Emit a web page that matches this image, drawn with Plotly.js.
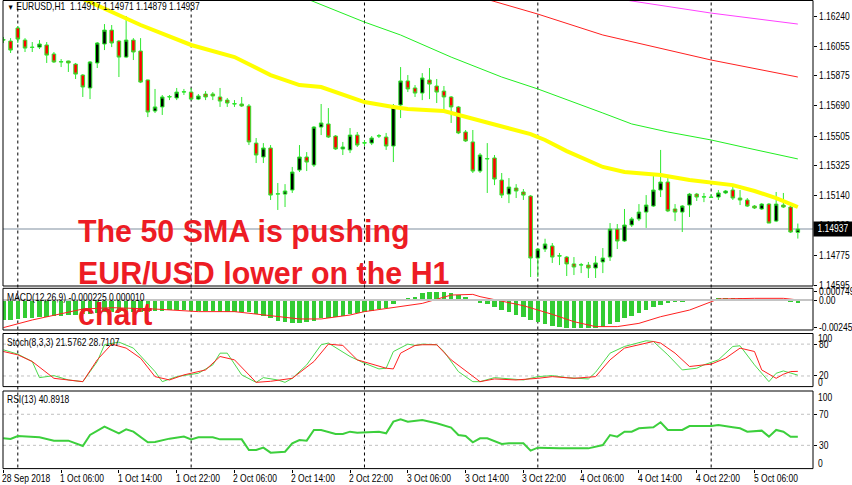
<!DOCTYPE html>
<html>
<head>
<meta charset="utf-8">
<script src="https://cdn.plot.ly/plotly-3.0.1.min.js"></script>
<style>
html,body{margin:0;padding:0;background:#ffffff;}
#chart{width:852px;height:485px;}
</style>
</head>
<body>
<div id="chart"></div>
<script>
// ---------------- DATA ----------------
// H1 bars from 28 Sep 2018 22:00 to 5 Oct 2018 12:00 (index = hourly bar)
const barOpen = [1.16093,1.16087,1.16167,1.16093,1.16050,1.16050,1.16063,1.16008,1.15959,1.15965,
1.15946,1.15879,1.15800,1.15953,1.16069,1.16154,1.16087,1.15989,1.16093,1.16026,
1.15849,1.15659,1.15684,1.15745,1.15739,1.15775,1.15775,1.15732,1.15763,1.15763,
1.15745,1.15726,1.15702,1.15702,1.15690,1.15463,1.15378,1.15433,1.15151,1.15151,
1.15176,1.15298,1.15378,1.15329,1.15561,1.15580,1.15506,1.15427,1.15421,1.15512,
1.15463,1.15463,1.15506,1.15500,1.15445,1.15696,1.15843,1.15800,1.15769,1.15849,
1.15812,1.15781,1.15745,1.15684,1.15531,1.15470,1.15292,1.15366,1.15372,1.15237,
1.15151,1.15188,1.15164,1.15139,1.14760,1.14815,1.14834,1.14772,1.14766,1.14724,
1.14717,1.14717,1.14699,1.14736,1.14766,1.14937,1.14864,1.14962,1.14999,1.15041,
1.15078,1.15176,1.15225,1.15060,1.15041,1.15084,1.15151,1.15133,1.15133,1.15133,
1.15158,1.15176,1.15127,1.15115,1.15078,1.15060,1.15090,1.14986,1.15084,1.15072,
1.14917];
const barHigh = [1.16112,1.16105,1.16179,1.16105,1.16081,1.16093,1.16081,1.16020,1.15977,1.15967,
1.15953,1.15885,1.15965,1.16081,1.16191,1.16185,1.16093,1.16240,1.16105,1.16105,
1.15851,1.15794,1.15757,1.15757,1.15800,1.15794,1.15800,1.15763,1.15781,1.15775,
1.15800,1.15739,1.15726,1.15745,1.15702,1.15494,1.15463,1.15451,1.15219,1.15212,
1.15317,1.15451,1.15408,1.15567,1.15702,1.15677,1.15512,1.15470,1.15555,1.15531,
1.15482,1.15506,1.15518,1.15525,1.15702,1.15928,1.15879,1.15818,1.15891,1.15922,
1.15855,1.15812,1.15751,1.15690,1.15543,1.15543,1.15402,1.15463,1.15390,1.15280,
1.15249,1.15212,1.15182,1.15145,1.14821,1.14878,1.14852,1.14791,1.14772,1.14766,
1.14730,1.14736,1.14772,1.14821,1.14974,1.14968,1.15060,1.15011,1.15090,1.15145,
1.15280,1.15421,1.15249,1.15090,1.15084,1.15158,1.15158,1.15158,1.15151,1.15176,
1.15176,1.15194,1.15176,1.15127,1.15084,1.15096,1.15096,1.15164,1.15158,1.15084,
1.14971];
const barLow = [1.16075,1.16014,1.16075,1.16020,1.16020,1.16038,1.15953,1.15953,1.15928,1.15898,
1.15855,1.15745,1.15732,1.15922,1.16032,1.16050,1.15867,1.15983,1.15971,1.15830,
1.15622,1.15647,1.15635,1.15726,1.15726,1.15757,1.15726,1.15726,1.15726,1.15726,
1.15684,1.15684,1.15684,1.15684,1.15451,1.15341,1.15341,1.15115,1.15054,1.15072,
1.15158,1.15286,1.15292,1.15317,1.15512,1.15494,1.15421,1.15390,1.15402,1.15439,
1.15445,1.15451,1.15494,1.15421,1.15347,1.15616,1.15775,1.15745,1.15726,1.15732,
1.15708,1.15653,1.15586,1.15518,1.15470,1.15280,1.15280,1.15158,1.15206,1.15127,
1.15096,1.15127,1.15115,1.14644,1.14644,1.14797,1.14730,1.14717,1.14650,1.14656,
1.14668,1.14638,1.14638,1.14668,1.14742,1.14815,1.14858,1.14950,1.14986,1.14944,
1.15072,1.15133,1.15041,1.14986,1.14919,1.15011,1.15109,1.15102,1.15127,1.15115,
1.15151,1.15115,1.15084,1.15072,1.15060,1.15054,1.14974,1.14980,1.15066,1.14913,
1.14879];
const barClose = [1.16095,1.16032,1.16099,1.16044,1.16048,1.16069,1.16001,1.15959,1.15961,1.15953,
1.15885,1.15806,1.15959,1.16075,1.16154,1.16075,1.15989,1.16093,1.16020,1.15836,
1.15653,1.15684,1.15745,1.15747,1.15775,1.15777,1.15732,1.15751,1.15745,1.15751,
1.15720,1.15708,1.15704,1.15690,1.15470,1.15390,1.15433,1.15145,1.15153,1.15170,
1.15286,1.15378,1.15347,1.15561,1.15586,1.15500,1.15427,1.15439,1.15512,1.15451,
1.15465,1.15494,1.15508,1.15445,1.15690,1.15843,1.15794,1.15769,1.15861,1.15824,
1.15775,1.15745,1.15684,1.15525,1.15476,1.15292,1.15390,1.15368,1.15243,1.15145,
1.15194,1.15170,1.15145,1.14760,1.14815,1.14846,1.14766,1.14774,1.14724,1.14705,
1.14719,1.14699,1.14730,1.14760,1.14937,1.14864,1.14962,1.14999,1.15041,1.15084,
1.15176,1.15225,1.15048,1.15041,1.15078,1.15151,1.15133,1.15135,1.15131,1.15158,
1.15170,1.15127,1.15115,1.15078,1.15066,1.15090,1.14974,1.15090,1.15072,1.14919,
1.14937];

// moving averages (bar index, price)
const sma50Bar = [8,12,14,19,26,32,37,41,44,48,50,54,56,61,63,66,69,73,75,78,83,86,91,95,101,104,107,110];
const sma50Val = [1.16405,1.16326,1.16286,1.16185,1.16063,1.15989,1.15879,1.15818,1.15806,1.15745,1.15714,1.15684,1.15671,1.15659,1.15635,1.15604,1.15567,1.15518,1.15482,1.15414,1.15317,1.15286,1.15268,1.15237,1.15206,1.15170,1.15127,1.15072];
const smaGreenBar = [40,50,55,62,69,74,83,87,92,98,103,110];
const smaGreenVal = [1.16381,1.16203,1.16124,1.15989,1.15867,1.15794,1.15647,1.15580,1.15531,1.15482,1.15433,1.15366];
const smaRedBar = [63,74,83,98,110];
const smaRedVal = [1.16393,1.16252,1.16124,1.15971,1.15867];
const smaMagBar = [83,98,110];
const smaMagVal = [1.16359,1.16258,1.16191];
const lastPrice = 1.14937;
const priceTicks = [1.16240,1.16055,1.15875,1.15690,1.15505,1.15325,1.15140,1.14960,1.14775,1.14595];

// MACD(12,26,9)
const macdMain = [-0.00177,-0.00177,-0.00168,-0.00162,-0.00156,-0.00150,-0.00148,-0.00142,-0.00139,-0.00133,
-0.00130,-0.00127,-0.00121,-0.00115,-0.00109,-0.00106,-0.00106,-0.00103,-0.00103,-0.00103,
-0.00103,-0.00097,-0.00094,-0.00091,-0.00091,-0.00091,-0.00094,-0.00097,-0.00097,-0.00097,
-0.00103,-0.00103,-0.00103,-0.00103,-0.00109,-0.00127,-0.00139,-0.00162,-0.00186,-0.00198,
-0.00207,-0.00207,-0.00198,-0.00183,-0.00162,-0.00156,-0.00148,-0.00139,-0.00127,-0.00118,
-0.00103,-0.00097,-0.00080,-0.00068,-0.00038,-0.00009,0.00015,0.00024,0.00059,0.00074,
0.00074,0.00068,0.00059,0.00044,0.00024,0.00005,-0.00030,-0.00038,-0.00059,-0.00089,
-0.00109,-0.00133,-0.00153,-0.00177,-0.00192,-0.00212,-0.00227,-0.00236,-0.00245,-0.00251,
-0.00251,-0.00250,-0.00245,-0.00236,-0.00215,-0.00192,-0.00162,-0.00139,-0.00118,-0.00089,
-0.00065,-0.00044,-0.00030,-0.00021,-0.00015,-0.00009,-0.00005,-0.00002,0.00003,0.00015,
0.00021,0.00021,0.00021,0.00012,0.00006,0.00003,-0.00003,-0.00002,-0.00006,-0.00015,
-0.000225];
const macdSigBar = [0,4,11,15,21,27,32,36,41,44,48,50,55,58,62,65,66,69,72,76,79,82,85,88,91,95,98,99,104,108,110];
const macdSigVal = [-0.00245,-0.00177,-0.00080,-0.00068,-0.00080,-0.00103,-0.00103,-0.00133,-0.00168,-0.00168,-0.00133,-0.00103,-0.00059,-0.00030,0.00044,0.00050,0.00030,-0.00009,-0.00050,-0.00127,-0.00192,-0.00236,-0.00236,-0.00207,-0.00148,-0.00089,-0.00015,0.00009,0.00015,0.00015,0.00001];

// Stochastic(8,3,3)
const stochKBar = [0,2,4,5,7,9,11,13,14,16,18,21,22,24,27,29,30,31,33,35,36,38,39,40,42,44,45,48,50,52,53,54,56,57,58,60,61,63,65,66,68,70,72,74,76,78,81,82,84,86,89,90,92,94,96,97,99,101,102,104,106,107,108,110];
const stochKVal = [69.3,61.1,47.2,16.9,20.7,12.5,9.3,47.2,78.8,83.8,72.5,28.3,9.3,18.8,25.1,40.9,63,63,22,8,16.9,12.5,8,15.6,40.9,78.8,82,56.7,44,33.3,34.6,66,80,77.5,80,78.8,66.1,28.3,9.3,9.3,16.9,14.4,12.5,18.8,20.7,16.9,14.4,27,63,75.6,86.3,85,59.8,31.4,34.6,40.9,50.4,75.6,76.9,40.9,9.3,25.1,29.5,21.6];
const stochDBar = [0,2,4,6,7,11,13,15,17,19,21,23,25,28,30,32,34,35,37,39,40,43,45,47,49,53,54,55,57,58,60,62,66,68,71,74,76,79,82,84,86,90,91,93,95,97,98,100,102,104,105,107,108,109,110];
const stochDVal = [66.1,59.8,47.2,25.1,15.6,9.3,50.4,80,72.5,53.5,18.8,12.5,22,31.4,56.7,50.4,22,8,10,14.4,15.6,47.2,80,77.5,50.4,34.6,33.3,63,77.5,78.8,78.8,50.4,9.3,14.4,12.5,15.6,18.8,15.6,18.8,50.4,72.5,85,82,63,37.8,40.9,42.2,53.5,72.5,66.1,31.4,15.6,23.2,28.3,28.7];

// RSI(13)
const rsiBar = [0,1,2,5,7,9,11,12,14,16,17,18,20,21,23,25,26,27,29,30,33,34,35,36,37,39,40,41,42,43,44,46,47,48,49,51,52,53,54,55,56,58,59,60,62,63,64,65,66,67,69,70,72,73,74,77,81,83,84,85,86,87,88,90,91,92,94,95,98,99,101,102,103,105,106,107,108,109,110];
const rsiVal = [39,38.2,42,40.3,36,36,29.1,43.3,54.1,45.5,50.6,47.6,33.9,34.3,38.6,41.2,37.7,40.3,40.3,37.7,37.7,24,24,27,20.5,21.8,32.6,36.9,36,49.8,49.8,44.6,44.6,47.6,46.3,46.8,47.6,45.5,60.5,63.5,60.5,62.7,60.5,58.4,52.8,43.3,42,33.9,39,39,31.7,32.6,32.6,23.1,27,26.1,26.1,30.4,43.3,41.2,47.6,47.6,51.9,53.2,59.7,49.8,49.8,54.9,54.9,56.2,53.2,51.9,47.6,48.9,41.2,49.8,47.6,40.9,40.9];

// time axis labels (bar index, text)
const timeBars = [0,8,16,24,32,40,48,56,64,72,80,88,96,104];
const timeLabels = ['28 Sep 2018','1 Oct 06:00','1 Oct 14:00','1 Oct 22:00','2 Oct 06:00','2 Oct 14:00','2 Oct 22:00','3 Oct 06:00','3 Oct 14:00','3 Oct 22:00','4 Oct 06:00','4 Oct 14:00','4 Oct 22:00','5 Oct 06:00'];
const daySeparators = [2,26,50,74,98];

// ---------------- CHART ----------------
const bars = barClose.map((_, i) => i);
const W = 852, H = 485;
const px = y => 1 - y / H;           // pixel row -> paper
const FONT = '"Liberation Sans",Arial,sans-serif';
const WICK = '#2fe82f';

const traces = [
  {type:'candlestick', x:bars, open:barOpen, high:barHigh, low:barLow, close:barClose,
   xaxis:'x', yaxis:'y', whiskerwidth:0, hoverinfo:'skip', showlegend:false,
   increasing:{line:{color:WICK,width:1}, fillcolor:'#000000'},
   decreasing:{line:{color:WICK,width:1}, fillcolor:'#ff0000'}},
  {type:'scatter', mode:'lines', x:smaMagBar, y:smaMagVal, line:{color:'#ff40ff',width:1}, xaxis:'x', yaxis:'y', hoverinfo:'skip'},
  {type:'scatter', mode:'lines', x:smaRedBar, y:smaRedVal, line:{color:'#ff2020',width:1}, xaxis:'x', yaxis:'y', hoverinfo:'skip'},
  {type:'scatter', mode:'lines', x:smaGreenBar, y:smaGreenVal, line:{color:'#22ee22',width:1}, xaxis:'x', yaxis:'y', hoverinfo:'skip'},
  {type:'scatter', mode:'lines', x:sma50Bar, y:sma50Val, line:{color:'#ffff00',width:4}, xaxis:'x', yaxis:'y', hoverinfo:'skip'},
  {type:'bar', x:bars, y:macdMain, width:0.62, marker:{color:'#33cc33',line:{width:0}}, xaxis:'x', yaxis:'y2', hoverinfo:'skip'},
  {type:'scatter', mode:'lines', x:macdSigBar, y:macdSigVal, line:{color:'#ff2020',width:1}, xaxis:'x', yaxis:'y2', hoverinfo:'skip'},
  {type:'scatter', mode:'lines', x:stochKBar, y:stochKVal, line:{color:'#4cd94c',width:1}, xaxis:'x', yaxis:'y3', hoverinfo:'skip'},
  {type:'scatter', mode:'lines', x:stochDBar, y:stochDVal, line:{color:'#ff2020',width:1}, xaxis:'x', yaxis:'y3', hoverinfo:'skip'},
  {type:'scatter', mode:'lines', x:rsiBar, y:rsiVal, line:{color:'#3ccf3c',width:2}, xaxis:'x', yaxis:'y4', hoverinfo:'skip'}
];

const tickFont = {family:FONT, size:10, color:'#000000'};
const yCommon = {side:'right', anchor:'x', showgrid:false, zeroline:false, showline:false,
  ticks:'outside', ticklen:3, tickcolor:'#000000', tickfont:tickFont, fixedrange:true};

const shapes = [];
// day separators
daySeparators.forEach(b => shapes.push({type:'line', xref:'x', yref:'paper', x0:b, x1:b,
  y0:px(467.5), y1:1, line:{color:'#000000', width:1, dash:'3px,3px'}, layer:'below'}));
// current price line
shapes.push({type:'line', xref:'x domain', yref:'y', x0:0, x1:1, y0:lastPrice, y1:lastPrice,
  line:{color:'#bfc7cf', width:2}, layer:'below'});
// MACD zero level
shapes.push({type:'line', xref:'x domain', yref:'y2', x0:0, x1:1, y0:0, y1:0,
  line:{color:'#c4c4c4', width:2}, layer:'above'});
// stochastic and RSI levels
[[ 'y3',80],['y3',20],['y4',70],['y4',30]].forEach(([ax,v]) => shapes.push({type:'line', xref:'x domain', yref:ax,
  x0:0, x1:1, y0:v, y1:v, line:{color:'#c0c0c0', width:1, dash:'3px,3px'}, layer:'below'}));
// panel frames
['y','y2','y3','y4'].forEach(ax => shapes.push({type:'rect', xref:'x domain', yref:ax+' domain',
  x0:0, x1:1, y0:0, y1:1, line:{color:'#000000', width:1}, fillcolor:'rgba(0,0,0,0)', layer:'above'}));

const small = {family:FONT, size:10, color:'#000000'};
const annotations = [
  {xref:'paper', yref:'paper', x:5/W, y:px(7), xanchor:'left', yanchor:'middle', showarrow:false,
   text:'<span style="font-size:8px">▼</span> EURUSD,H1  1.14917 1.14971 1.14879 1.14937', font:small},
  {xref:'paper', yref:'paper', x:5/W, y:px(297), xanchor:'left', yanchor:'middle', showarrow:false,
   text:'MACD(12,26,9) -0.000225 0.000010', font:small},
  {xref:'paper', yref:'paper', x:5/W, y:px(342), xanchor:'left', yanchor:'middle', showarrow:false,
   text:'Stoch(8,3,3) 21.5762 28.7107', font:small},
  {xref:'paper', yref:'paper', x:5/W, y:px(399), xanchor:'left', yanchor:'middle', showarrow:false,
   text:'RSI(13) 40.8918', font:small},
  {xref:'x domain', yref:'y', x:1, y:lastPrice, xanchor:'left', yanchor:'middle', showarrow:false,
   text:lastPrice.toFixed(5), font:{family:FONT, size:10, color:'#ffffff'}, bgcolor:'#000000', borderpad:1, width:36, height:12},
  {xref:'paper', yref:'paper', x:816/W, y:px(338), xanchor:'left', yanchor:'middle', showarrow:false, text:'100', font:small},
  {xref:'paper', yref:'paper', x:816/W, y:px(382), xanchor:'left', yanchor:'middle', showarrow:false, text:'0', font:small},
  {xref:'paper', yref:'paper', x:816/W, y:px(397), xanchor:'left', yanchor:'middle', showarrow:false, text:'100', font:small},
  {xref:'paper', yref:'paper', x:816/W, y:px(463), xanchor:'left', yanchor:'middle', showarrow:false, text:'0', font:small},
  {xref:'paper', yref:'paper', x:76/W, y:px(272), xanchor:'left', yanchor:'middle', align:'left', showarrow:false,
   text:'The 50 SMA is pushing<br>EUR/USD lower on the H1<br>chart',
   font:{family:FONT, size:32, color:'#ed1c24', weight:700}}
];
timeBars.forEach((b, i) => annotations.push({xref:'x', yref:'paper', x:b, y:px(478), xanchor:'left', yanchor:'middle',
  showarrow:false, text:timeLabels[i], font:small, xshift:-3}));

const layout = {
  width:W, height:H, margin:{l:0, r:0, t:0, b:0},
  paper_bgcolor:'#ffffff', plot_bgcolor:'#ffffff', showlegend:false, dragmode:false, bargap:0,
  xaxis:{domain:[3/W, 813/W], range:[-0.05, 112.1], anchor:'y4', showgrid:false, zeroline:false,
    showticklabels:false, ticks:'outside', ticklen:3, tickcolor:'#000000', tickvals:timeBars,
    rangeslider:{visible:false}, fixedrange:true},
  yaxis: Object.assign({}, yCommon, {domain:[px(286), px(0.5)], range:[1.14589, 1.16335],
    tickvals:priceTicks, ticktext:priceTicks.map(v => v.toFixed(5))}),
  yaxis2: Object.assign({}, yCommon, {domain:[px(330), px(288.3)], range:[-0.00266, 0.00104],
    tickvals:[0.000749, 0, -0.002456], ticktext:['0.000749','0.00','-0.002456']}),
  yaxis3: Object.assign({}, yCommon, {domain:[px(386.6), px(333.5)], range:[0, 100],
    tickvals:[80, 20], ticktext:['80','20']}),
  yaxis4: Object.assign({}, yCommon, {domain:[px(468.6), px(391)], range:[0, 100],
    tickvals:[70, 30], ticktext:['70','30']}),
  shapes:shapes, annotations:annotations
};

// The terminal font is condensed: squeeze each text horizontally about its left edge
// (the price box label about its centre), leaving marks and lines crisp.
function condenseTexts(gd) {
  gd.querySelectorAll('svg text').forEach(t => {
    const fs = parseFloat(t.style.fontSize || '10');
    const k = fs > 20 ? 0.95 : 0.85;
    const bb = t.getBBox();
    if (!bb.width) return;
    const centred = t.textContent === lastPrice.toFixed(5) && (t.style.fill || '').indexOf('255, 255, 255') >= 0;
    const ax = centred ? bb.x + bb.width / 2 : bb.x;
    const prev = t.getAttribute('transform') || '';
    t.setAttribute('transform', (prev + ' translate(' + ax + ',0) scale(' + k + ',1) translate(' + (-ax) + ',0)').trim());
  });
}

Plotly.newPlot('chart', traces, layout, {staticPlot:true, displayModeBar:false})
  .then(gd => condenseTexts(gd));
</script>
</body>
</html>
